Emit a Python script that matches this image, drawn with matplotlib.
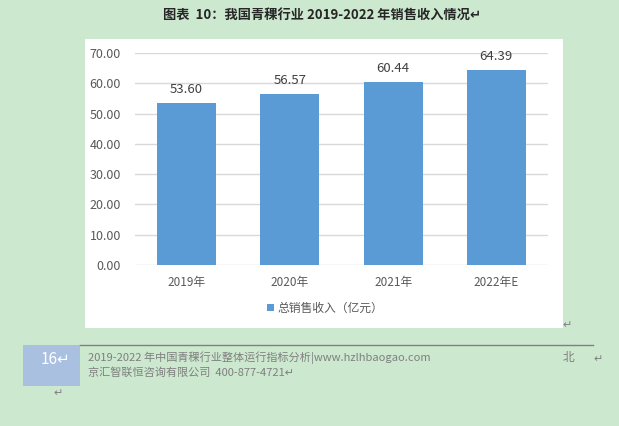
import matplotlib
matplotlib.use("Agg")
import matplotlib.pyplot as plt
from matplotlib.patches import Rectangle

plt.rcParams['font.family'] = ['Noto Sans CJK SC', 'DejaVu Sans']

# data
years = ["2019年", "2020年", "2021年", "2022年E"]
revenue = [53.60, 56.57, 60.44, 64.39]
y_ticks = [0, 10, 20, 30, 40, 50, 60, 70]
legend_label = "总销售收入（亿元）"
title = "图表  10：我国青稞行业 2019-2022 年销售收入情况↵"
footer_1 = "2019-2022 年中国青稞行业整体运行指标分析|www.hzlhbaogao.com"
footer_2 = "京汇智联恒咨询有限公司  400-877-4721↵"
page_no = "16↵"

W, H = 619, 426
bg = "#cce8cf"
bar_color = "#5b9bd5"


def fx(x):
    return x / W


def fy(y):
    return 1 - y / H


fig = plt.figure(figsize=(W / 100, H / 100), dpi=100, facecolor=bg)

# white chart box
fig.add_artist(Rectangle((fx(85), fy(328)), (563 - 85) / W, (328 - 39) / H,
                         transform=fig.transFigure, facecolor="white",
                         edgecolor="none", zorder=0))

ax = fig.add_axes([fx(135), fy(265), (548 - 135) / W, (265 - 53) / H])
ax.set_facecolor("white")
bars = ax.bar(range(len(years)), revenue, width=0.57, color=bar_color,
              zorder=3, label=legend_label)
ax.set_xlim(-0.5, len(years) - 0.5)
ax.set_ylim(0, 70)
ax.set_yticks(y_ticks)
ax.set_yticklabels([f"{v:.2f}" for v in y_ticks], fontsize=9, color="#595959")
ax.set_xticks(range(len(years)))
ax.set_xticklabels(years, fontsize=8.5, color="#595959")
ax.tick_params(length=0, pad=10)
ax.tick_params(axis='x', pad=8)
ax.grid(axis='y', color="#d9d9d9", linewidth=1, zorder=0)
for s in ax.spines.values():
    s.set_visible(False)

for i, v in enumerate(revenue):
    ax.annotate(f"{v:.2f}", (i, v), xytext=(0, 5), textcoords="offset points",
                ha="center", va="bottom", fontsize=9.5, color="#404040")

fig.legend(handles=[bars], labels=[legend_label], loc="center",
           bbox_to_anchor=(fx(325), fy(308)), frameon=False, fontsize=8.5,
           handlelength=0.6, handleheight=0.6, handletextpad=0.3,
           labelcolor="#595959")

fig.text(fx(322), fy(15), title, ha="center", va="center", fontsize=9.5,
         fontweight="bold", color="#262626")
fig.text(fx(567), fy(325), "↵", ha="center", va="center", fontsize=8,
         color="#808080")

# footer
fig.add_artist(Rectangle((fx(23), fy(386)), (80 - 23) / W, (386 - 345) / H,
                         transform=fig.transFigure, facecolor="#a9c0e0",
                         edgecolor="none"))
fig.add_artist(plt.Line2D([fx(80), fx(593)], [fy(345), fy(345)],
                          transform=fig.transFigure, color="#808080", lw=1))
fig.text(fx(55), fy(360), page_no, ha="center", va="center", fontsize=11,
         color="white")
fig.text(fx(88), fy(358), footer_1, ha="left", va="center", fontsize=8,
         color="#7f7f7f")
fig.text(fx(88), fy(373), footer_2, ha="left", va="center", fontsize=8,
         color="#7f7f7f")
fig.text(fx(569), fy(358), "北", ha="center", va="center", fontsize=8.5,
         color="#7f7f7f")
fig.text(fx(598), fy(359), "↵", ha="center", va="center", fontsize=8,
         color="#808080")
fig.text(fx(58), fy(393), "↵", ha="center", va="center", fontsize=8,
         color="#808080")

fig.savefig("out.png", dpi=100, facecolor=bg)
